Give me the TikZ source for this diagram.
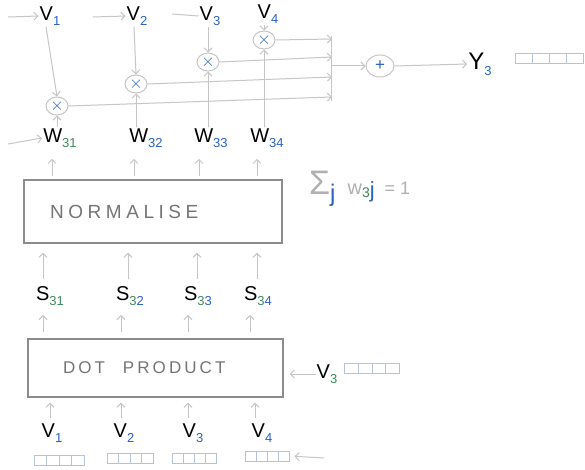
\documentclass[tikz,border=0pt]{standalone}
\usepackage{fontspec}
\setmainfont{Liberation Sans}
\usetikzlibrary{shapes.geometric,calc,arrows.meta}
\definecolor{lg}{HTML}{C6C6C6}
\definecolor{sg}{HTML}{B0B0B0}
\definecolor{bx}{HTML}{8C8C8C}
\definecolor{tg}{HTML}{757575}
\definecolor{bl}{HTML}{2A62C0}
\definecolor{gr}{HTML}{3E8A5E}
\definecolor{vc}{HTML}{B3C3DA}
\newcommand\subc[2]{\raisebox{-0.5ex}{\fontsize{13}{13}\selectfont\color{#1}#2}}
\begin{document}
\begin{tikzpicture}[x=1pt,y=-1pt,
  lab/.style={inner sep=1pt, font=\fontsize{20}{22}\selectfont},
  arr/.style={draw=lg, line width=1pt, -{Straight Barb[length=4pt,width=8pt]}},
  ln/.style={draw=lg, line width=1pt},
  mult/.style={ellipse, draw=lg, line width=1pt, fill=white, minimum width=22pt, minimum height=18pt, inner sep=0pt, text=bl, font=\fontsize{16}{16}\selectfont},
  bigbox/.style={draw=bx, line width=1.2pt, text=tg, align=left},
  vecbox/.style={draw=vc, line width=1pt, minimum height=10pt, inner sep=0pt,
    path picture={\foreach \f in {0.25,0.5,0.75}{\draw[vc, line width=1pt] ($(path picture bounding box.north west)!\f!(path picture bounding box.north east)$) -- ($(path picture bounding box.south west)!\f!(path picture bounding box.south east)$);}}}
]
\useasboundingbox[fill=white] (0,0) rectangle (585,470);

% top row V
\node[lab] (v1) at (50,16) {V\subc{bl}{1}};
\node[lab] (v2) at (137,16) {V\subc{bl}{2}};
\node[lab] (v3) at (210,16) {V\subc{bl}{3}};
\node[lab] (v4) at (268,14) {V\subc{bl}{4}};
\coordinate (la1) at (8,17);
\coordinate (la2) at (93,17);
\coordinate (la3) at (172,14);
\draw[arr] (la1) -- (v1.west);
\draw[arr] (la2) -- (v2.west);
\draw[ln] (la3) -- (v3.west);

% multiply circles
\node[mult] (m1) at (57,106) {$\times$};
\node[mult] (m2) at (136,84) {$\times$};
\node[mult] (m3) at (208,62) {$\times$};
\node[mult] (m4) at (264,40) {$\times$};
\draw[arr] ([xshift=-4pt]v1.south) -- (m1.north);
\draw[arr] ([xshift=-3pt]v2.south) -- (m2.north);
\draw[arr] ([xshift=-2pt]v3.south) -- (m3.north);
\draw[arr] ([xshift=-4pt]v4.south) -- (m4.north);

% W row
\node[lab] (w1) at (60,138) {W\subc{gr}{31}};
\node[lab] (w2) at (146,138) {W\subc{bl}{32}};
\node[lab] (w3) at (211,138) {W\subc{bl}{33}};
\node[lab] (w4) at (267,138) {W\subc{bl}{34}};
\coordinate (lw) at (8,144);
\draw[arr] (lw) -- (w1.west);
\draw[arr] ([xshift=-3pt]w1.north) -- (m1.south);
\draw[arr] (m2.south |- w2.north) -- (m2.south);
\draw[arr] (m3.south |- w3.north) -- (m3.south);
\draw[arr] (m4.south |- w4.north) -- (m4.south);

% bracket and sum
\coordinate (b1) at (332,97);
\coordinate (b2) at (332,77);
\coordinate (b3) at (332,57);
\coordinate (b4) at (332,39);
\coordinate (bt) at (331,36);
\coordinate (bb) at (331,101);
\coordinate (bm) at (331,66);
\draw[arr] (m1.east) -- (b1);
\draw[arr] (m2.east) -- (b2);
\draw[arr] (m3.east) -- (b3);
\draw[arr] (m4.east) -- (b4);
\draw[ln] (bt) -- (bb);
\node[mult, minimum width=28pt, minimum height=22pt, font=\fontsize{17}{17}\selectfont] (p) at (380,66) {+};
\draw[arr] (bm) -- (p.west);
\node[lab, font=\fontsize{24}{24}\selectfont] (y) at (480,64) {Y\subc{bl}{3}};
\draw[arr] (p.east) -- (y.west);
\node[vecbox, minimum width=68pt] (yv) at (549,59) {};

% normalise box
\node[bigbox, minimum height=63pt, text width=206pt, inner xsep=26pt, font=\fontsize{19}{20}\selectfont\addfontfeatures{LetterSpace=24}] (nb) at (153,211.5) {NORMALISE};
\draw[arr, shorten <=3pt, shorten >=10pt] ([xshift=-8pt]w1.south |- nb.north) -- ([xshift=-8pt]w1.south);
\draw[arr, shorten <=3pt, shorten >=10pt] ([xshift=-12pt]w2.south |- nb.north) -- ([xshift=-12pt]w2.south);
\draw[arr, shorten <=3pt, shorten >=10pt] ([xshift=-12pt]w3.south |- nb.north) -- ([xshift=-12pt]w3.south);
\draw[arr, shorten <=3pt, shorten >=10pt] ([xshift=-10pt]w4.south |- nb.north) -- ([xshift=-10pt]w4.south);

% sum constraint
\node[inner sep=0pt, anchor=west] (sum) at (309,189) {{\fontsize{34}{34}\selectfont\color{sg}Σ}\raisebox{-1.3ex}{\fontsize{24}{24}\selectfont\color{bl}j}\hspace{12pt}{\fontsize{20}{20}\selectfont\color{sg}w}\raisebox{-0.5ex}{\fontsize{14}{14}\selectfont\color{gr}3}\raisebox{-0.6ex}{\fontsize{22}{22}\selectfont\color{bl}j}\hspace{10pt}{\fontsize{18}{18}\selectfont\color{sg}= 1}};

% S row
\node[lab] (s1) at (50,296) {S\subc{gr}{31}};
\node[lab] (s2) at (130,296) {S\subc{gr}{3}\subc{bl}{2}};
\node[lab] (s3) at (198,296) {S\subc{gr}{3}\subc{bl}{3}};
\node[lab] (s4) at (258,296) {S\subc{gr}{3}\subc{bl}{4}};
\draw[arr, shorten <=6pt, shorten >=9pt] ([xshift=-7pt]s1.north) -- ([xshift=-7pt]s1.north |- nb.south);
\draw[arr, shorten <=6pt, shorten >=9pt] ([xshift=-2pt]s2.north) -- ([xshift=-2pt]s2.north |- nb.south);
\draw[arr, shorten <=6pt, shorten >=9pt] ([xshift=-1pt]s3.north) -- ([xshift=-1pt]s3.north |- nb.south);
\draw[arr, shorten <=6pt, shorten >=9pt] ([xshift=-1pt]s4.north) -- ([xshift=-1pt]s4.north |- nb.south);

% dot product box
\node[bigbox, minimum height=58pt, text width=185pt, inner xsep=35pt, font=\fontsize{17}{18}\selectfont] (db) at (155.5,368) {{\addfontfeatures{LetterSpace=18}DOT}\hspace{18pt}{\addfontfeatures{LetterSpace=18}PRODUCT}};
\draw[arr, shorten <=6pt, shorten >=8pt] ([xshift=-7pt]s1.south |- db.north) -- ([xshift=-7pt]s1.south);
\draw[arr, shorten <=6pt, shorten >=8pt] ([xshift=-9pt]s2.south |- db.north) -- ([xshift=-9pt]s2.south);
\draw[arr, shorten <=6pt, shorten >=8pt] ([xshift=-10pt]s3.south |- db.north) -- ([xshift=-10pt]s3.south);
\draw[arr, shorten <=6pt, shorten >=8pt] ([xshift=-8pt]s4.south |- db.north) -- ([xshift=-8pt]s4.south);

\node[lab] (vr) at (327,374) {V\subc{gr}{3}};
\node[vecbox, minimum width=55pt] (vrb) at (372,368) {};
\draw[arr, shorten >=6pt] (vr.west) -- (vr.west -| db.east);

% bottom V row
\node[lab] (u1) at (52,433) {V\subc{bl}{1}};
\node[lab] (u2) at (124,433) {V\subc{bl}{2}};
\node[lab] (u3) at (193,433) {V\subc{bl}{3}};
\node[lab] (u4) at (262,433) {V\subc{bl}{4}};
\draw[arr, shorten <=4pt, shorten >=5pt] ([xshift=-2pt]u1.north) -- ([xshift=-2pt]u1.north |- db.south);
\draw[arr, shorten <=4pt, shorten >=5pt] ([xshift=-3pt]u2.north) -- ([xshift=-3pt]u2.north |- db.south);
\draw[arr, shorten <=4pt, shorten >=5pt] ([xshift=-5pt]u3.north) -- ([xshift=-5pt]u3.north |- db.south);
\draw[arr, shorten <=4pt, shorten >=5pt] ([xshift=-7pt]u4.north) -- ([xshift=-7pt]u4.north |- db.south);
\node[vecbox, minimum width=50pt] (q1) at (59,460) {};
\node[vecbox, minimum width=46pt] (q2) at (130,458) {};
\node[vecbox, minimum width=44pt] (q3) at (194,458) {};
\node[vecbox, minimum width=44pt] (q4) at (267,456) {};
\coordinate (rq) at (324,458);
\draw[arr, shorten >=5pt] (rq) -- (q4.east);
\end{tikzpicture}
\end{document}
